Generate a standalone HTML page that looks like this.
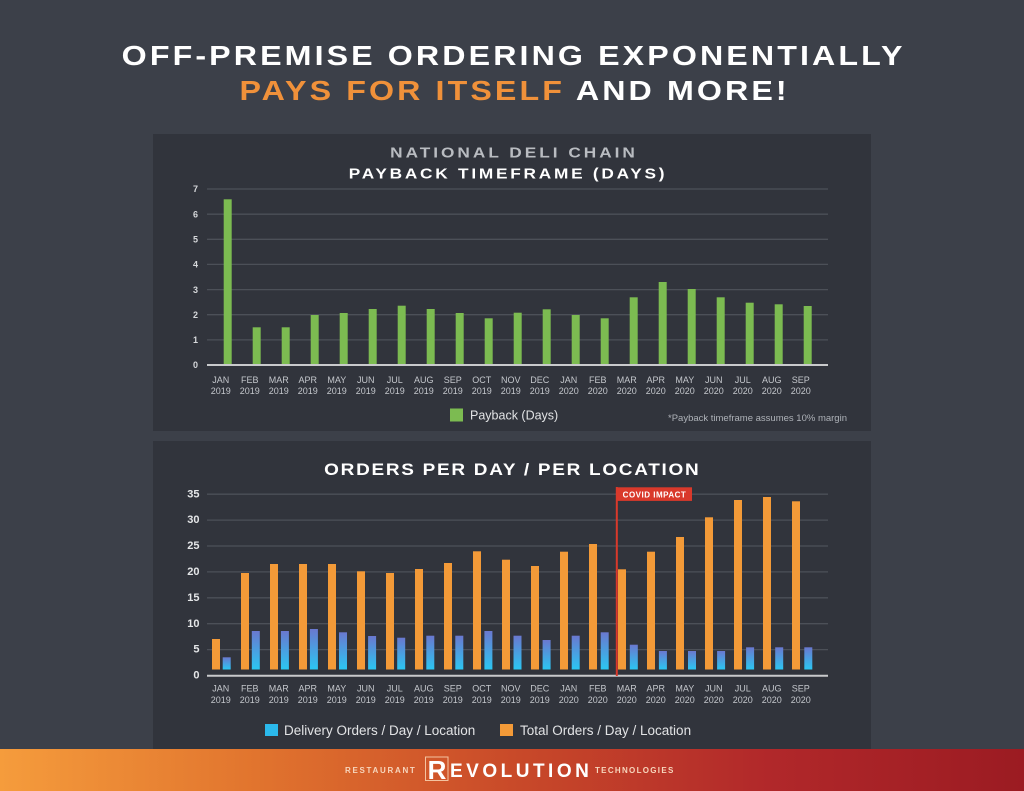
<!DOCTYPE html>
<html>
<head>
<meta charset="utf-8">
<style>
html,body{margin:0;padding:0;background:#3c4049;}
svg{display:block;}
text{font-family:"Liberation Sans",Arial,sans-serif;}
.ttl{font-weight:bold;font-size:28px;letter-spacing:2.7px;fill:#ffffff;}
.yl{font-weight:bold;font-size:9px;fill:#d6d8db;text-anchor:end;}
.yl2{font-weight:bold;font-size:11px;fill:#e4e6e8;text-anchor:end;}
.xl{font-size:9px;fill:#c4c7cc;text-anchor:middle;}
.grid{stroke:#4c5058;stroke-width:1.3;}
</style>
</head>
<body>
<svg width="1024" height="791" viewBox="0 0 1024 791" xmlns="http://www.w3.org/2000/svg">
<defs>
<linearGradient id="foot" x1="0" y1="0" x2="1" y2="0">
<stop offset="0" stop-color="#f59c3c"/>
<stop offset="0.25" stop-color="#e1742e"/>
<stop offset="0.5" stop-color="#c94a29"/>
<stop offset="0.75" stop-color="#b1282a"/>
<stop offset="1" stop-color="#9b1b22"/>
</linearGradient>
<linearGradient id="blu" x1="0" y1="0" x2="0" y2="1">
<stop offset="0" stop-color="#6a78cf"/>
<stop offset="1" stop-color="#2bc6f2"/>
</linearGradient>
</defs>
<rect x="0" y="0" width="1024" height="791" fill="#3c4049"/>

<!-- Title -->
<text class="ttl" x="0" y="0" text-anchor="middle" transform="translate(513.6,65) scale(1.15,1)">OFF-PREMISE ORDERING EXPONENTIALLY</text>
<text class="ttl" x="0" y="0" text-anchor="middle" transform="translate(514.6,100) scale(1.15,1)"><tspan fill="#f0913a">PAYS FOR ITSELF</tspan> AND MORE!</text>

<!-- Cards -->
<rect x="153" y="134" width="718" height="297" fill="#31343c"/>
<rect x="153" y="441" width="718" height="308" fill="#31343c"/>

<!-- Top chart titles -->
<text x="0" y="0" text-anchor="middle" font-weight="bold" font-size="15" letter-spacing="2.6" fill="#b9bcc1" transform="translate(514,157.5) scale(1.15,1)">NATIONAL DELI CHAIN</text>
<text x="0" y="0" text-anchor="middle" font-weight="bold" font-size="15" letter-spacing="2.4" fill="#ffffff" transform="translate(508,178.5) scale(1.15,1)">PAYBACK TIMEFRAME (DAYS)</text>

<!-- Top chart grid -->
<g class="grid">
<line x1="207" y1="189" x2="828" y2="189"/>
<line x1="207" y1="214.2" x2="828" y2="214.2"/>
<line x1="207" y1="239.3" x2="828" y2="239.3"/>
<line x1="207" y1="264.4" x2="828" y2="264.4"/>
<line x1="207" y1="289.6" x2="828" y2="289.6"/>
<line x1="207" y1="314.7" x2="828" y2="314.7"/>
<line x1="207" y1="339.9" x2="828" y2="339.9"/>
</g>
<g>
<text class="yl" x="198" y="192.2">7</text>
<text class="yl" x="198" y="217.4">6</text>
<text class="yl" x="198" y="242.5">5</text>
<text class="yl" x="198" y="267.6">4</text>
<text class="yl" x="198" y="292.8">3</text>
<text class="yl" x="198" y="317.9">2</text>
<text class="yl" x="198" y="343.1">1</text>
<text class="yl" x="198" y="368.2">0</text>
</g>
<!-- Top bars -->
<g fill="#7cbb51">
<rect x="223.7" y="199.3" width="8" height="165.7"/>
<rect x="252.7" y="327.3" width="8" height="37.7"/>
<rect x="281.7" y="327.3" width="8" height="37.7"/>
<rect x="310.7" y="315" width="8" height="50"/>
<rect x="339.7" y="313" width="8" height="52"/>
<rect x="368.7" y="309" width="8" height="56"/>
<rect x="397.7" y="305.7" width="8" height="59.3"/>
<rect x="426.7" y="309" width="8" height="56"/>
<rect x="455.7" y="313" width="8" height="52"/>
<rect x="484.7" y="318.3" width="8" height="46.7"/>
<rect x="513.7" y="312.7" width="8" height="52.3"/>
<rect x="542.7" y="309.3" width="8" height="55.7"/>
<rect x="571.7" y="315" width="8" height="50"/>
<rect x="600.7" y="318.3" width="8" height="46.7"/>
<rect x="629.7" y="297.3" width="8" height="67.7"/>
<rect x="658.7" y="282" width="8" height="83"/>
<rect x="687.7" y="289" width="8" height="76"/>
<rect x="716.7" y="297.3" width="8" height="67.7"/>
<rect x="745.7" y="302.7" width="8" height="62.3"/>
<rect x="774.7" y="304.3" width="8" height="60.7"/>
<rect x="803.7" y="306" width="8" height="59"/>
</g>
<line x1="207" y1="365" x2="828" y2="365" stroke="#c9cacc" stroke-width="2"/>

<!-- Top x labels -->
<g class="xl">
<text x="220.8" y="383.2">JAN</text><text x="220.8" y="394">2019</text>
<text x="249.8" y="383.2">FEB</text><text x="249.8" y="394">2019</text>
<text x="278.8" y="383.2">MAR</text><text x="278.8" y="394">2019</text>
<text x="307.8" y="383.2">APR</text><text x="307.8" y="394">2019</text>
<text x="336.8" y="383.2">MAY</text><text x="336.8" y="394">2019</text>
<text x="365.8" y="383.2">JUN</text><text x="365.8" y="394">2019</text>
<text x="394.8" y="383.2">JUL</text><text x="394.8" y="394">2019</text>
<text x="423.8" y="383.2">AUG</text><text x="423.8" y="394">2019</text>
<text x="452.8" y="383.2">SEP</text><text x="452.8" y="394">2019</text>
<text x="481.8" y="383.2">OCT</text><text x="481.8" y="394">2019</text>
<text x="510.8" y="383.2">NOV</text><text x="510.8" y="394">2019</text>
<text x="539.8" y="383.2">DEC</text><text x="539.8" y="394">2019</text>
<text x="568.8" y="383.2">JAN</text><text x="568.8" y="394">2020</text>
<text x="597.8" y="383.2">FEB</text><text x="597.8" y="394">2020</text>
<text x="626.8" y="383.2">MAR</text><text x="626.8" y="394">2020</text>
<text x="655.8" y="383.2">APR</text><text x="655.8" y="394">2020</text>
<text x="684.8" y="383.2">MAY</text><text x="684.8" y="394">2020</text>
<text x="713.8" y="383.2">JUN</text><text x="713.8" y="394">2020</text>
<text x="742.8" y="383.2">JUL</text><text x="742.8" y="394">2020</text>
<text x="771.8" y="383.2">AUG</text><text x="771.8" y="394">2020</text>
<text x="800.8" y="383.2">SEP</text><text x="800.8" y="394">2020</text>
</g>

<!-- Top legend -->
<rect x="450" y="408.5" width="13" height="13" fill="#7cbb51"/>
<text x="470" y="419.5" font-size="12.5" fill="#e2e3e5">Payback (Days)</text>
<text x="668" y="421" font-size="9.5" fill="#aeb2b8">*Payback timeframe assumes 10% margin</text>

<!-- Bottom chart title -->
<text x="0" y="0" text-anchor="middle" font-weight="bold" font-size="16.5" letter-spacing="1.5" fill="#ffffff" transform="translate(512.3,475) scale(1.15,1)">ORDERS PER DAY / PER LOCATION</text>

<!-- Bottom grid -->
<g class="grid">
<line x1="207" y1="494.2" x2="828" y2="494.2"/>
<line x1="207" y1="520.1" x2="828" y2="520.1"/>
<line x1="207" y1="546" x2="828" y2="546"/>
<line x1="207" y1="571.9" x2="828" y2="571.9"/>
<line x1="207" y1="597.8" x2="828" y2="597.8"/>
<line x1="207" y1="623.7" x2="828" y2="623.7"/>
<line x1="207" y1="649.6" x2="828" y2="649.6"/>
</g>
<g>
<text class="yl2" x="199.5" y="497.3">35</text>
<text class="yl2" x="199.5" y="523.2">30</text>
<text class="yl2" x="199.5" y="549.1">25</text>
<text class="yl2" x="199.5" y="575">20</text>
<text class="yl2" x="199.5" y="600.9">15</text>
<text class="yl2" x="199.5" y="626.8">10</text>
<text class="yl2" x="199.5" y="652.7">5</text>
<text class="yl2" x="199.5" y="678.3">0</text>
</g>

<!-- Orange bars -->
<g fill="#f39a38">
<rect x="212" y="639" width="8" height="30.5"/>
<rect x="241" y="573" width="8" height="96.5"/>
<rect x="270" y="564" width="8" height="105.5"/>
<rect x="299" y="564" width="8" height="105.5"/>
<rect x="328" y="564" width="8" height="105.5"/>
<rect x="357" y="571.3" width="8" height="98.2"/>
<rect x="386" y="573" width="8" height="96.5"/>
<rect x="415" y="569" width="8" height="100.5"/>
<rect x="444" y="563" width="8" height="106.5"/>
<rect x="473" y="551.3" width="8" height="118.2"/>
<rect x="502" y="559.7" width="8" height="109.8"/>
<rect x="531" y="566" width="8" height="103.5"/>
<rect x="560" y="551.7" width="8" height="117.8"/>
<rect x="589" y="544" width="8" height="125.5"/>
<rect x="618" y="569.3" width="8" height="100.2"/>
<rect x="647" y="551.7" width="8" height="117.8"/>
<rect x="676" y="537" width="8" height="132.5"/>
<rect x="705" y="517.3" width="8" height="152.2"/>
<rect x="734" y="500" width="8" height="169.5"/>
<rect x="763" y="497" width="8" height="172.5"/>
<rect x="792" y="501.3" width="8" height="168.2"/>
</g>
<!-- Blue bars -->
<g fill="url(#blu)">
<rect x="222.7" y="657.3" width="8" height="12.2"/>
<rect x="251.8" y="631" width="8" height="38.5"/>
<rect x="280.9" y="631" width="8" height="38.5"/>
<rect x="309.9" y="629" width="8" height="40.5"/>
<rect x="339" y="632.3" width="8" height="37.2"/>
<rect x="368.1" y="636" width="8" height="33.5"/>
<rect x="397.2" y="637.7" width="8" height="31.8"/>
<rect x="426.3" y="635.7" width="8" height="33.8"/>
<rect x="455.3" y="635.7" width="8" height="33.8"/>
<rect x="484.4" y="631" width="8" height="38.5"/>
<rect x="513.5" y="635.7" width="8" height="33.8"/>
<rect x="542.6" y="640" width="8" height="29.5"/>
<rect x="571.7" y="635.7" width="8" height="33.8"/>
<rect x="600.7" y="632.3" width="8" height="37.2"/>
<rect x="629.8" y="644.7" width="8" height="24.8"/>
<rect x="658.9" y="651" width="8" height="18.5"/>
<rect x="688" y="651" width="8" height="18.5"/>
<rect x="717.1" y="651" width="8" height="18.5"/>
<rect x="746.1" y="647.3" width="8" height="22.2"/>
<rect x="775.2" y="647.3" width="8" height="22.2"/>
<rect x="804.3" y="647.3" width="8" height="22.2"/>
</g>
<line x1="207" y1="675.7" x2="828" y2="675.7" stroke="#c9cacc" stroke-width="2"/>

<!-- COVID marker -->
<rect x="615.8" y="487" width="2" height="189" fill="#d9392b"/>
<rect x="616.5" y="487.3" width="75.5" height="13.6" fill="#d9392b"/>
<text x="654.5" y="497.3" text-anchor="middle" font-weight="bold" font-size="8" letter-spacing="0.5" fill="#ffffff">COVID IMPACT</text>

<!-- Bottom x labels -->
<g class="xl">
<text x="220.8" y="691.6">JAN</text><text x="220.8" y="703.2">2019</text>
<text x="249.8" y="691.6">FEB</text><text x="249.8" y="703.2">2019</text>
<text x="278.8" y="691.6">MAR</text><text x="278.8" y="703.2">2019</text>
<text x="307.8" y="691.6">APR</text><text x="307.8" y="703.2">2019</text>
<text x="336.8" y="691.6">MAY</text><text x="336.8" y="703.2">2019</text>
<text x="365.8" y="691.6">JUN</text><text x="365.8" y="703.2">2019</text>
<text x="394.8" y="691.6">JUL</text><text x="394.8" y="703.2">2019</text>
<text x="423.8" y="691.6">AUG</text><text x="423.8" y="703.2">2019</text>
<text x="452.8" y="691.6">SEP</text><text x="452.8" y="703.2">2019</text>
<text x="481.8" y="691.6">OCT</text><text x="481.8" y="703.2">2019</text>
<text x="510.8" y="691.6">NOV</text><text x="510.8" y="703.2">2019</text>
<text x="539.8" y="691.6">DEC</text><text x="539.8" y="703.2">2019</text>
<text x="568.8" y="691.6">JAN</text><text x="568.8" y="703.2">2020</text>
<text x="597.8" y="691.6">FEB</text><text x="597.8" y="703.2">2020</text>
<text x="626.8" y="691.6">MAR</text><text x="626.8" y="703.2">2020</text>
<text x="655.8" y="691.6">APR</text><text x="655.8" y="703.2">2020</text>
<text x="684.8" y="691.6">MAY</text><text x="684.8" y="703.2">2020</text>
<text x="713.8" y="691.6">JUN</text><text x="713.8" y="703.2">2020</text>
<text x="742.8" y="691.6">JUL</text><text x="742.8" y="703.2">2020</text>
<text x="771.8" y="691.6">AUG</text><text x="771.8" y="703.2">2020</text>
<text x="800.8" y="691.6">SEP</text><text x="800.8" y="703.2">2020</text>
</g>

<!-- Bottom legend -->
<rect x="265" y="724" width="13" height="12" fill="#2bb9ec"/>
<text x="284" y="734.8" font-size="13.5" fill="#e2e3e5">Delivery Orders / Day / Location</text>
<rect x="500" y="724" width="13" height="12" fill="#f39a38"/>
<text x="520" y="734.8" font-size="13.5" fill="#e2e3e5">Total Orders / Day / Location</text>

<!-- Footer -->
<rect x="0" y="749" width="1024" height="42" fill="url(#foot)"/>
<text x="345" y="772.8" font-weight="bold" font-size="8" letter-spacing="1.7" fill="#f7d6bd">RESTAURANT</text>
<rect x="425.5" y="757" width="22.5" height="23.5" fill="none" stroke="#f4c3a0" stroke-width="1"/>
<text x="437" y="779" text-anchor="middle" font-weight="bold" font-size="26" fill="#ffffff">R</text>
<text x="450" y="777" font-weight="bold" font-size="19" letter-spacing="3.5" fill="#ffffff">EVOLUTION</text>
<text x="595" y="772.8" font-weight="bold" font-size="8" letter-spacing="1.3" fill="#f7d6bd">TECHNOLOGIES</text>
</svg>
</body>
</html>
